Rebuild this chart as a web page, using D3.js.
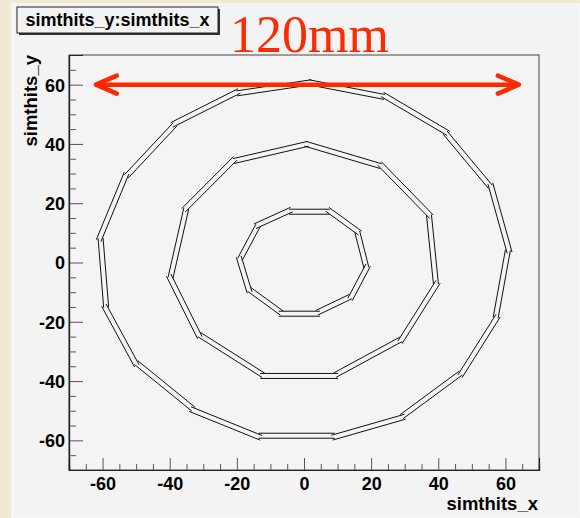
<!DOCTYPE html>
<html><head><meta charset="utf-8">
<script src="https://cdn.jsdelivr.net/npm/d3@7"></script>
<style>html,body{margin:0;padding:0;background:#f1ead2;}svg{display:block;}</style>
</head><body>
<svg id="c" width="580" height="518"></svg>
<script>
// ---- data ----
const xTicks = [-60, -40, -20, 0, 20, 40, 60];
const yTicks = [-60, -40, -20, 0, 20, 40, 60];
const xMinor = [-65, -55, -50, -45, -35, -30, -25, -15, -10, -5, 5, 10, 15, 25, 30, 35, 45, 50, 55, 65];
const yMinor = [-65, -55, -50, -45, -35, -30, -25, -15, -10, -5, 5, 10, 15, 25, 30, 35, 45, 50, 55, 65];
const innerRing = [[-4.0,17.4],[7.2,17.4],[16.2,10.0],[18.7,-1.2],[13.7,-11.9],[4.3,-17.0],[-7.1,-17.0],[-16.1,-9.6],[-19.1,1.6],[-14.1,12.2]];
const middleRing = [[0.8,40.2],[22.6,32.9],[37.5,15.6],[39.5,-6.8],[28.6,-26.4],[9.7,-38.0],[-12.6,-38.0],[-31.0,-24.8],[-39.9,-4.6],[-35.4,17.8],[-20.6,34.6]];
const outerRing = [[1.8,61.0],[23.6,56.2],[42.5,43.6],[55.4,26.1],[60.9,3.7],[57.4,-18.2],[46.5,-37.8],[29.6,-51.9],[8.7,-58.7],[-13.1,-58.7],[-33.4,-49.4],[-49.8,-34.3],[-59.2,-14.7],[-60.8,7.7],[-52.8,29.6],[-38.9,46.4],[-19.6,57.4]];
const rings = [innerRing, middleRing, outerRing];
const arrowX = [-62, 64];
const arrowY = 60;
const titleText = "simthits_y:simthits_x";
const annotText = "120mm";
const xTitle = "simthits_x";
const yTitle = "simthits_y";

// ---- drawing ----
const svg = d3.select("#c");
const x = d3.scaleLinear().domain([-70, 70]).range([69, 539]);
const y = d3.scaleLinear().domain([-70, 70]).range([470, 55]);

svg.append("rect").attr("x",0).attr("y",0).attr("width",580).attr("height",518).attr("fill","#f1ead2");
svg.append("rect").attr("x",12).attr("y",4).attr("width",568).attr("height",514).attr("fill","#f3f3f3")
  .attr("stroke","#fbfbfb").attr("stroke-width",1);

// plot frame
svg.append("rect").attr("x",x(-70)).attr("y",y(70)).attr("width",x(70)-x(-70)).attr("height",y(-70)-y(70))
  .attr("fill","#f4f4f4").attr("stroke","#444").attr("stroke-width",1);

// axes
const font = "'Liberation Sans', Arial, Helvetica, sans-serif";
const fmt = d => String(d);
const gx = svg.append("g").attr("transform",`translate(0,${y(-70)})`)
  .call(d3.axisBottom(x).tickValues(xTicks).tickSize(-12).tickFormat(fmt));
const gxm = svg.append("g").attr("transform",`translate(0,${y(-70)})`)
  .call(d3.axisBottom(x).tickValues(xMinor).tickSize(-6).tickFormat(""));
const gy = svg.append("g").attr("transform",`translate(${x(-70)},0)`)
  .call(d3.axisLeft(y).tickValues(yTicks).tickSize(-14).tickFormat(fmt));
const gym = svg.append("g").attr("transform",`translate(${x(-70)},0)`)
  .call(d3.axisLeft(y).tickValues(yMinor).tickSize(-7).tickFormat(""));
[gx,gxm,gy,gym].forEach(g=>{
  g.select(".domain").attr("stroke","#222").attr("stroke-width",1.2);
  g.selectAll(".tick line").attr("stroke","#555").attr("stroke-width",1);
});
gx.selectAll(".tick text").attr("y",7).attr("dy","0.71em")
  .attr("font-family",font).attr("font-weight","bold").attr("font-size",18).attr("fill","#000");
gy.selectAll(".tick text").attr("x",-4).attr("dy","0.36em")
  .attr("font-family",font).attr("font-weight","bold").attr("font-size",18).attr("fill","#000");

svg.append("text").attr("x",538).attr("y",510).attr("text-anchor","end")
  .attr("font-family",font).attr("font-weight","bold").attr("font-size",18.5).text(xTitle);
svg.append("text").attr("transform",`translate(37,${y(70)}) rotate(-90)`).attr("text-anchor","end")
  .attr("font-family",font).attr("font-weight","bold").attr("font-size",18.5).text(yTitle);

// rings: each module drawn as two parallel lines
const half = 2.5, ext = 1.5;
const gr = svg.append("g");
rings.forEach(ring=>{
  ring.forEach((p,i)=>{
    const q = ring[(i+1)%ring.length];
    const x1 = x(p[0]), y1 = y(p[1]), x2 = x(q[0]), y2 = y(q[1]);
    const dx = x2-x1, dy = y2-y1, L = Math.hypot(dx,dy);
    const ux = dx/L, uy = dy/L, nx = -uy, ny = ux;
    const s = (i%2===0) ? 0.8 : -0.8;
    [-half, half].forEach(o=>{
      const oo = o + s;
      gr.append("line")
        .attr("x1", x1 - ux*ext + nx*oo).attr("y1", y1 - uy*ext + ny*oo)
        .attr("x2", x2 + ux*ext + nx*oo).attr("y2", y2 + uy*ext + ny*oo)
        .attr("stroke","#111").attr("stroke-width",1);
    });
  });
});

// red arrow
const red = "#ff2a00";
const ay = y(arrowY), ax1 = x(arrowX[0]), ax2 = x(arrowX[1]);
const ga = svg.append("g").attr("stroke",red).attr("stroke-width",4.5).attr("stroke-linecap","round").attr("stroke-linejoin","round").attr("fill","none");
ga.append("line").attr("x1",ax1+2).attr("y1",ay).attr("x2",ax2-2).attr("y2",ay);
ga.append("path").attr("d",`M${ax1+21},${ay-9}L${ax1},${ay}L${ax1+21},${ay+9}`);
ga.append("path").attr("d",`M${ax2-21},${ay-9}L${ax2},${ay}L${ax2-21},${ay+9}`);

// title box
svg.append("rect").attr("x",19).attr("y",9).attr("width",201).attr("height",26).attr("fill","#333");
svg.append("rect").attr("x",17).attr("y",7).attr("width",201).attr("height",26).attr("fill","#f3f3f3").attr("stroke","#222").attr("stroke-width",1);
svg.append("text").attr("x",117.5).attr("y",26).attr("text-anchor","middle")
  .attr("font-family",font).attr("font-weight","bold").attr("font-size",18).text(titleText);

// annotation
svg.append("text").attr("x",230).attr("y",52).attr("font-family","'Liberation Serif','Times New Roman',serif")
  .attr("font-size",52).attr("fill",red).text(annotText);
</script>
</body></html>
